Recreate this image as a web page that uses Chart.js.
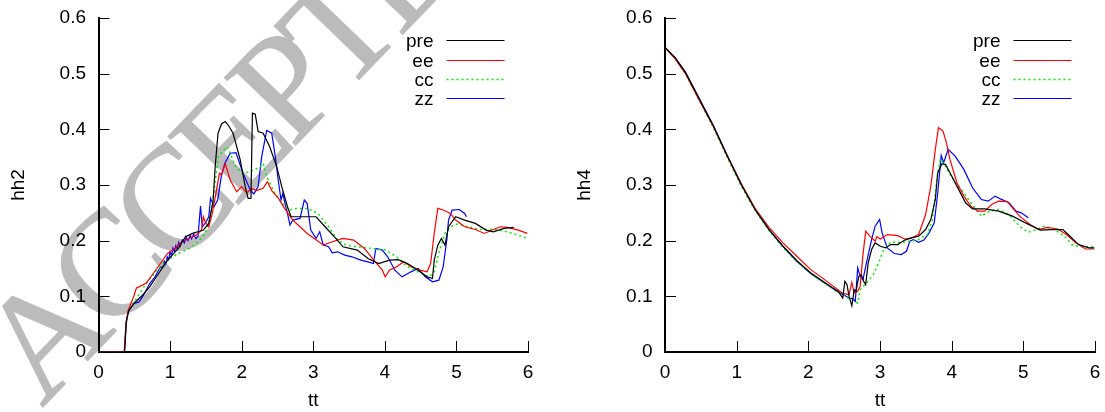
<!DOCTYPE html>
<html><head><meta charset="utf-8">
<script src="https://cdn.jsdelivr.net/npm/chart.js@4.4.1/dist/chart.umd.min.js"></script>
<style>
html,body{margin:0;padding:0;background:#fff;}
#wrap{position:relative;width:1105px;height:412px;overflow:hidden;background:#fff;}
#wm{position:absolute;left:0;top:0;}
canvas{position:absolute;top:0;}
</style></head><body>
<div id="wrap">
<svg id="wm" width="1105" height="412"><text x="42" y="408" transform="rotate(-46 42 408)" font-family="Liberation Serif, serif" font-size="150" letter-spacing="-10" fill="#bbbbbb" stroke="#bbbbbb" stroke-width="1">ACCEPTED MANUSCRIPT</text></svg>
<canvas id="c1" width="552" height="412" style="left:0"></canvas>
<canvas id="c2" width="553" height="412" style="left:552px"></canvas>
</div>
<script>
const xTicks = [0,1,2,3,4,5,6];
const xTickLabels = ['0','1','2','3','4','5','6'];
const yTicks = [0,0.1,0.2,0.3,0.4,0.5,0.6];
const yTickLabels = ['0','0.1','0.2','0.3','0.4','0.5','0.6'];
const seriesNames = ['pre','ee','cc','zz'];
const seriesColors = ['#000000','#ff0000','#00ee00','#0000ff'];
const xTitle = 'tt';

const hh2_pre = [[0,0],[0.365,0],[0.39,0.057],[0.425,0.075],[0.515,0.09],[0.615,0.102],[0.715,0.117],[0.84,0.141],[0.965,0.165],[1.115,0.186],[1.215,0.207],[1.315,0.213],[1.465,0.219],[1.54,0.231],[1.6,0.27],[1.63,0.333],[1.67,0.393],[1.72,0.41],[1.77,0.414],[1.82,0.406],[1.88,0.393],[1.98,0.345],[2.05,0.297],[2.09,0.276],[2.13,0.276],[2.15,0.429],[2.19,0.427],[2.23,0.396],[2.30,0.393],[2.39,0.369],[2.49,0.333],[2.56,0.297],[2.64,0.261],[2.69,0.243],[2.865,0.243],[3.04,0.243],[3.165,0.225],[3.315,0.204],[3.415,0.189],[3.615,0.183],[3.765,0.168],[3.915,0.159],[4.065,0.165],[4.19,0.166],[4.315,0.159],[4.465,0.147],[4.59,0.135],[4.665,0.132],[4.69,0.165],[4.74,0.192],[4.79,0.204],[4.84,0.192],[4.89,0.225],[4.99,0.243],[5.115,0.237],[5.265,0.231],[5.415,0.219],[5.515,0.216],[5.665,0.222],[5.8,0.224]];
const hh2_ee = [[0,0],[0.36,0],[0.385,0.05],[0.415,0.075],[0.49,0.099],[0.53,0.115],[0.565,0.117],[0.67,0.124],[0.765,0.141],[0.865,0.159],[0.965,0.177],[1.065,0.186],[1.165,0.198],[1.265,0.204],[1.365,0.21],[1.44,0.219],[1.465,0.243],[1.49,0.234],[1.54,0.225],[1.59,0.249],[1.64,0.285],[1.69,0.321],[1.715,0.318],[1.77,0.338],[1.84,0.309],[1.93,0.288],[2.0,0.297],[2.07,0.286],[2.14,0.294],[2.21,0.290],[2.30,0.294],[2.36,0.306],[2.42,0.290],[2.515,0.276],[2.615,0.255],[2.715,0.237],[2.815,0.225],[2.915,0.213],[3.015,0.204],[3.14,0.192],[3.265,0.198],[3.415,0.204],[3.565,0.201],[3.715,0.186],[3.865,0.162],[3.965,0.147],[4.005,0.135],[4.065,0.147],[4.165,0.153],[4.265,0.162],[4.365,0.153],[4.49,0.147],[4.59,0.144],[4.64,0.159],[4.69,0.213],[4.74,0.258],[4.815,0.255],[4.865,0.252],[4.915,0.249],[4.99,0.237],[5.115,0.225],[5.265,0.220],[5.39,0.213],[5.515,0.220],[5.615,0.225],[5.715,0.224],[5.865,0.219],[5.99,0.213]];
const hh2_cc = [[0,0],[0.36,0],[0.385,0.05],[0.415,0.075],[0.515,0.093],[0.665,0.123],[0.815,0.147],[0.965,0.165],[1.115,0.177],[1.265,0.186],[1.39,0.198],[1.49,0.213],[1.565,0.243],[1.615,0.291],[1.675,0.351],[1.79,0.369],[1.84,0.357],[1.915,0.333],[2.015,0.321],[2.12,0.324],[2.26,0.333],[2.30,0.339],[2.35,0.315],[2.465,0.285],[2.565,0.267],[2.665,0.255],[2.765,0.258],[2.915,0.258],[3.065,0.249],[3.215,0.225],[3.34,0.201],[3.465,0.192],[3.615,0.189],[3.815,0.186],[4.015,0.183],[4.165,0.171],[4.315,0.153],[4.465,0.144],[4.615,0.135],[4.69,0.144],[4.765,0.183],[4.84,0.213],[4.915,0.225],[5.015,0.230],[5.165,0.225],[5.315,0.220],[5.515,0.220],[5.715,0.216],[5.865,0.210],[5.99,0.204]];
const hh2_zz = [[0,0],[0.36,0],[0.385,0.05],[0.415,0.072],[0.49,0.087],[0.565,0.090],[0.615,0.099],[0.665,0.111],[0.715,0.123],[0.79,0.135],[0.865,0.153],[0.9,0.152],[0.92,0.163],[0.94,0.158],[0.96,0.171],[0.98,0.166],[1.0,0.18],[1.02,0.173],[1.04,0.187],[1.06,0.18],[1.08,0.191],[1.10,0.185],[1.12,0.197],[1.14,0.19],[1.17,0.201],[1.2,0.196],[1.22,0.207],[1.25,0.2],[1.28,0.21],[1.3,0.203],[1.33,0.212],[1.36,0.204],[1.39,0.208],[1.425,0.262],[1.45,0.225],[1.49,0.231],[1.54,0.243],[1.565,0.276],[1.615,0.261],[1.665,0.273],[1.715,0.315],[1.765,0.339],[1.84,0.357],[1.92,0.358],[2.02,0.321],[2.12,0.291],[2.17,0.284],[2.23,0.297],[2.28,0.351],[2.35,0.398],[2.42,0.393],[2.47,0.351],[2.51,0.309],[2.55,0.273],[2.575,0.285],[2.605,0.267],[2.64,0.249],[2.675,0.228],[2.715,0.237],[2.815,0.240],[2.875,0.273],[2.915,0.267],[2.965,0.219],[3.04,0.204],[3.09,0.216],[3.14,0.192],[3.215,0.189],[3.265,0.178],[3.34,0.18],[3.44,0.174],[3.54,0.171],[3.665,0.165],[3.765,0.162],[3.84,0.159],[3.875,0.186],[3.965,0.183],[4.04,0.171],[4.14,0.147],[4.24,0.135],[4.365,0.144],[4.465,0.15],[4.565,0.135],[4.665,0.126],[4.755,0.129],[4.815,0.153],[4.865,0.201],[4.89,0.237],[4.94,0.255],[5.04,0.256],[5.115,0.249],[5.14,0.243]];

const hh4_pre = [[0,0.547],[0.14,0.529],[0.286,0.502],[0.48,0.454],[0.675,0.406],[0.869,0.352],[1.063,0.301],[1.257,0.256],[1.451,0.220],[1.646,0.190],[1.84,0.164],[2.034,0.142],[2.228,0.125],[2.422,0.108],[2.48,0.097],[2.51,0.127],[2.54,0.121],[2.568,0.100],[2.607,0.083],[2.64,0.112],[2.665,0.109],[2.704,0.136],[2.738,0.139],[2.772,0.127],[2.80,0.121],[2.835,0.160],[2.883,0.184],[2.932,0.196],[3.005,0.190],[3.078,0.187],[3.15,0.193],[3.248,0.193],[3.345,0.201],[3.442,0.205],[3.539,0.208],[3.636,0.220],[3.709,0.238],[3.772,0.274],[3.806,0.322],[3.864,0.338],[3.913,0.337],[3.976,0.322],[4.073,0.298],[4.194,0.268],[4.291,0.257],[4.461,0.257],[4.655,0.253],[4.85,0.244],[5.044,0.231],[5.238,0.219],[5.383,0.220],[5.553,0.220],[5.65,0.208],[5.772,0.193],[5.917,0.187],[5.99,0.187]];
const hh4_ee = [[0,0.547],[0.14,0.527],[0.286,0.500],[0.48,0.452],[0.675,0.405],[0.869,0.352],[1.063,0.302],[1.257,0.258],[1.451,0.224],[1.646,0.196],[1.84,0.172],[2.034,0.148],[2.228,0.130],[2.471,0.106],[2.568,0.103],[2.607,0.125],[2.64,0.106],[2.689,0.109],[2.723,0.118],[2.762,0.175],[2.801,0.217],[2.859,0.208],[2.932,0.199],[2.956,0.207],[3.005,0.203],[3.102,0.211],[3.248,0.209],[3.345,0.203],[3.442,0.205],[3.539,0.211],[3.636,0.247],[3.709,0.298],[3.772,0.364],[3.816,0.403],[3.879,0.397],[3.927,0.376],[3.976,0.346],[4.073,0.304],[4.17,0.280],[4.267,0.262],[4.364,0.253],[4.461,0.253],[4.558,0.265],[4.655,0.271],[4.777,0.270],[4.85,0.259],[4.947,0.244],[5.092,0.229],[5.214,0.220],[5.335,0.224],[5.481,0.221],[5.602,0.211],[5.723,0.197],[5.869,0.185],[5.99,0.185]];
const hh4_cc = [[0,0.547],[0.14,0.527],[0.286,0.500],[0.48,0.452],[0.675,0.403],[0.869,0.349],[1.063,0.298],[1.257,0.254],[1.451,0.218],[1.646,0.188],[1.84,0.162],[2.034,0.141],[2.228,0.123],[2.422,0.107],[2.568,0.096],[2.64,0.091],[2.689,0.088],[2.723,0.112],[2.811,0.124],[2.908,0.139],[2.98,0.160],[3.053,0.184],[3.15,0.197],[3.345,0.197],[3.539,0.202],[3.66,0.211],[3.733,0.238],[3.791,0.310],[3.84,0.346],[3.903,0.337],[3.976,0.319],[4.073,0.301],[4.17,0.286],[4.267,0.268],[4.413,0.244],[4.534,0.253],[4.655,0.256],[4.8,0.247],[4.947,0.226],[5.068,0.215],[5.19,0.220],[5.286,0.226],[5.432,0.220],[5.578,0.208],[5.675,0.193],[5.796,0.189],[5.99,0.189]];
const hh4_zz = [[0,0.547],[0.14,0.529],[0.286,0.503],[0.48,0.455],[0.675,0.407],[0.869,0.353],[1.063,0.302],[1.257,0.256],[1.451,0.220],[1.646,0.190],[1.84,0.163],[2.034,0.141],[2.228,0.124],[2.422,0.108],[2.568,0.097],[2.617,0.096],[2.655,0.091],[2.689,0.151],[2.723,0.136],[2.762,0.130],[2.811,0.160],[2.883,0.202],[2.932,0.226],[2.995,0.238],[3.029,0.214],[3.102,0.187],[3.199,0.177],[3.296,0.175],[3.369,0.181],[3.417,0.199],[3.466,0.202],[3.539,0.197],[3.612,0.201],[3.685,0.214],[3.757,0.232],[3.806,0.286],[3.854,0.353],[3.888,0.340],[3.951,0.364],[4.049,0.352],[4.17,0.328],[4.291,0.295],[4.413,0.274],[4.51,0.271],[4.607,0.280],[4.68,0.275],[4.8,0.268],[4.898,0.253],[4.971,0.250],[5.068,0.241]];

const FONT = '"Liberation Sans", Arial, Helvetica, sans-serif';
Chart.defaults.color = '#000';
Chart.defaults.font.family = FONT;
Chart.defaults.font.size = 19;

const inTicks = {
  id: 'inTicks',
  afterDatasetsDraw(chart) {
    const {ctx, chartArea: a, scales: {x, y}} = chart;
    ctx.save();
    ctx.strokeStyle = '#000';
    ctx.lineWidth = 1;
    ctx.beginPath();
    xTicks.forEach(v => { const px = Math.round(x.getPixelForValue(v)) + 0.5; ctx.moveTo(px, a.bottom); ctx.lineTo(px, a.bottom - 11); });
    yTicks.forEach(v => { const py = Math.round(y.getPixelForValue(v)) + 0.5; ctx.moveTo(a.left, py); ctx.lineTo(a.left + 11, py); });
    ctx.stroke();
    ctx.restore();
  }
};

const gpLegend = {
  id: 'gpLegend',
  afterDatasetsDraw(chart) {
    const {ctx, chartArea: a} = chart;
    const x2 = a.right - 23.5, x1 = x2 - 58;
    ctx.save();
    ctx.font = '19px ' + FONT;
    ctx.textAlign = 'right';
    ctx.textBaseline = 'alphabetic';
    chart.data.datasets.forEach((ds, i) => {
      const yy = Math.round(a.top + 22.4 + i * 19.35) + 0.5;
      ctx.fillStyle = '#000';
      ctx.fillText(ds.label, x1 - 13, yy + 6);
      ctx.strokeStyle = ds.borderColor;
      ctx.lineWidth = ds.borderWidth;
      ctx.setLineDash(ds.borderDash || []);
      ctx.beginPath(); ctx.moveTo(x1, yy); ctx.lineTo(x2, yy); ctx.stroke();
    });
    ctx.restore();
  }
};

function makeChart(id, yTitle, series, yWidth, padRight, yTitlePad) {
  const datasets = series.map((s, i) => ({
    label: seriesNames[i],
    data: s.map(p => ({x: p[0], y: p[1]})),
    borderColor: seriesColors[i],
    borderWidth: seriesNames[i] === 'cc' ? 1.5 : 1.2,
    borderDash: seriesNames[i] === 'cc' ? [2, 3] : [],
    pointRadius: 0,
    tension: 0,
    fill: false
  }));
  return new Chart(document.getElementById(id), {
    type: 'line',
    data: {datasets},
    options: {
      responsive: false, animation: false, devicePixelRatio: 1,
      layout: {padding: {left: 0, top: 18, right: padRight, bottom: 0}},
      plugins: {legend: {display: false}, tooltip: {enabled: false}},
      scales: {
        x: {
          type: 'linear', min: 0, max: 6,
          grid: {display: false, drawTicks: false},
          border: {display: true, color: '#000', width: 2},
          afterBuildTicks: s => { s.ticks = xTicks.map(v => ({value: v})); },
          ticks: {padding: 9, maxRotation: 0, autoSkip: false, callback: (v, i) => xTickLabels[i], font: {size: 19}},
          title: {display: true, text: xTitle, font: {size: 19}, padding: {top: 0, bottom: 0}},
          afterFit: s => { s.height = 60; s.paddingLeft = 0; s.paddingRight = 0; }
        },
        y: {
          type: 'linear', min: 0, max: 0.6,
          grid: {display: false, drawTicks: false},
          border: {display: true, color: '#000', width: 2},
          afterBuildTicks: s => { s.ticks = yTicks.map(v => ({value: v})); },
          ticks: {padding: 12.5, autoSkip: false, callback: (v, i) => yTickLabels[i], font: {size: 19}},
          title: {display: true, text: yTitle, font: {size: 19}, padding: {top: yTitlePad, bottom: 0}},
          afterFit: s => { s.width = yWidth; s.paddingTop = 0; s.paddingBottom = 0; }
        }
      }
    },
    plugins: [inTicks, gpLegend]
  });
}

makeChart('c1', 'hh2', [hh2_pre, hh2_ee, hh2_cc, hh2_zz], 98.5, 24, 7.6);
makeChart('c2', 'hh4', [hh4_pre, hh4_ee, hh4_cc, hh4_zz], 113, 10, 21.6);
</script>
</body></html>
